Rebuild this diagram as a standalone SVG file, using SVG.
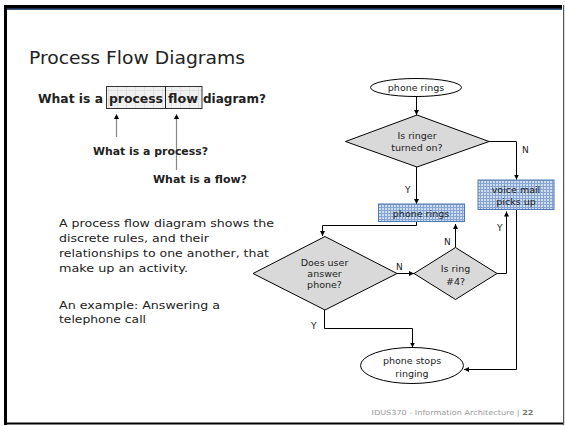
<svg xmlns="http://www.w3.org/2000/svg" width="565" height="426" viewBox="0 0 565 426">
<defs>
<pattern id="blue" width="3" height="3" patternUnits="userSpaceOnUse">
<rect width="3" height="3" fill="#cddcef"/>
<path d="M0 0.5H3M0.5 0V3" stroke="#86a4cf" stroke-width="1"/>
</pattern>
<pattern id="grid" width="9" height="9" patternUnits="userSpaceOnUse">
<rect width="9" height="9" fill="#f0f0f0"/>
<path d="M0 0.5H9M0.5 0V9" stroke="#dedede" stroke-width="1"/>
</pattern>
<marker id="ah" markerWidth="6" markerHeight="6" refX="5" refY="3" orient="auto" markerUnits="userSpaceOnUse">
<path d="M0 0.5L5 3L0 5.5Z" fill="#000"/>
</marker>
</defs>
<style>
text{font-family:"DejaVu Sans",Verdana,sans-serif;fill:#222}
.fc{font-size:9.5px;text-anchor:middle}
.lbl{font-size:9px}
.b{font-weight:bold}
.dia{fill:#d9d9d9;stroke:#000;stroke-width:1}
.ell{fill:#fff;stroke:#000;stroke-width:1}
.box{fill:url(#blue);stroke:#4f79b3;stroke-width:1}
.con{fill:none;stroke:#000;stroke-width:1}
.gar{fill:none;stroke:#888;stroke-width:1.2}
.par{font-size:11px}
</style>
<rect width="565" height="426" fill="#fff"/>
<!-- frame -->
<rect x="4" y="5" width="558" height="4" fill="#000"/>
<rect x="7" y="8.5" width="555" height="1.5" fill="#3a5a85"/>
<rect x="4" y="5" width="3" height="420" fill="#000"/>
<rect x="4" y="422.5" width="560" height="2" fill="#000"/>
<rect x="563" y="5" width="1.2" height="420" fill="#555"/>

<text x="29" y="64" font-size="18" textLength="216" lengthAdjust="spacingAndGlyphs">Process Flow Diagrams</text>

<g id="header">
<rect x="106.5" y="86.5" width="95.5" height="22" fill="url(#grid)" stroke="#333"/>
<line x1="165.5" y1="86.5" x2="165.5" y2="108.5" stroke="#222"/>
<text class="b" x="38" y="103" font-size="11.5" textLength="65" lengthAdjust="spacingAndGlyphs">What is a</text>
<text class="b" x="109" y="103" font-size="11.5" textLength="54" lengthAdjust="spacingAndGlyphs">process</text>
<text class="b" x="168" y="103" font-size="11.5" textLength="30" lengthAdjust="spacingAndGlyphs">flow</text>
<text class="b" x="203" y="103" font-size="11.5" textLength="63" lengthAdjust="spacingAndGlyphs">diagram?</text>
</g>
<g id="subq">
<line class="gar" x1="116.5" y1="137" x2="116.5" y2="118"/>
<path d="M114 119L116.5 114L119 119Z" fill="#000"/>
<line class="gar" x1="176.5" y1="170" x2="176.5" y2="118"/>
<path d="M174 119L176.5 114L179 119Z" fill="#000"/>
<text class="b" x="93" y="155" font-size="10" textLength="115" lengthAdjust="spacingAndGlyphs">What is a process?</text>
<text class="b" x="153" y="183" font-size="10" textLength="94" lengthAdjust="spacingAndGlyphs">What is a flow?</text>
</g>
<g id="para">
<text class="par" x="59" y="227" textLength="215" lengthAdjust="spacingAndGlyphs">A process flow diagram shows the</text>
<text class="par" x="59" y="242" textLength="150" lengthAdjust="spacingAndGlyphs">discrete rules, and their</text>
<text class="par" x="59" y="257" textLength="210" lengthAdjust="spacingAndGlyphs">relationships to one another, that</text>
<text class="par" x="59" y="272" textLength="129" lengthAdjust="spacingAndGlyphs">make up an activity.</text>
<text class="par" x="59" y="309" textLength="161" lengthAdjust="spacingAndGlyphs">An example: Answering a</text>
<text class="par" x="59" y="323" textLength="87" lengthAdjust="spacingAndGlyphs">telephone call</text>
</g>

<g id="connectors">
<line class="con" x1="416.5" y1="96.5" x2="416.5" y2="115" marker-end="url(#ah)"/>
<polyline class="con" points="489,141.5 516.5,141.5 516.5,179.5" marker-end="url(#ah)"/>
<line class="con" x1="416.5" y1="167" x2="416.5" y2="204" marker-end="url(#ah)"/>
<polyline class="con" points="416.5,222 416.5,225.5 322.5,225.5 322.5,236" marker-end="url(#ah)"/>
<line class="con" x1="397" y1="273.5" x2="414" y2="273.5" marker-end="url(#ah)"/>
<line class="con" x1="455.5" y1="247.5" x2="455.5" y2="224" marker-end="url(#ah)"/>
<polyline class="con" points="497,273.5 506.5,273.5 506.5,211.5" marker-end="url(#ah)"/>
<polyline class="con" points="516.5,209.5 516.5,369.5 464,369.5" marker-end="url(#ah)"/>
<polyline class="con" points="324.5,310 324.5,328.5 412.5,328.5 412.5,347.5" marker-end="url(#ah)"/>
<text class="lbl" x="522" y="153">N</text>
<text class="lbl" x="405" y="193">Y</text>
<text class="lbl" x="396" y="270">N</text>
<text class="lbl" x="444" y="245">N</text>
<text class="lbl" x="497" y="231">Y</text>
<text class="lbl" x="311" y="329">Y</text>
</g>

<g id="start">
<ellipse class="ell" cx="416" cy="87.5" rx="45.5" ry="9"/>
<text class="fc" x="416" y="91">phone rings</text>
</g>
<g id="ringer">
<polygon class="dia" points="417,115 489,141.5 417,167 345.5,141.5"/>
<text class="fc" x="417" y="139">Is ringer</text>
<text class="fc" x="417" y="151">turned on?</text>
</g>
<g id="voicemail">
<rect class="box" x="478" y="180" width="76" height="29.5"/>
<text class="fc" x="516" y="193">voice mail</text>
<text class="fc" x="516" y="205">picks up</text>
</g>
<g id="rings">
<rect class="box" x="378.5" y="204" width="86" height="17.5"/>
<text class="fc" x="421" y="216.5">phone rings</text>
</g>
<g id="answer">
<polygon class="dia" points="325,236.5 397,273.5 325,310 253,273.5"/>
<text class="fc" x="324.5" y="266">Does user</text>
<text class="fc" x="324.5" y="277">answer</text>
<text class="fc" x="324.5" y="288">phone?</text>
</g>
<g id="ring4">
<polygon class="dia" points="455.5,247.5 497,273.5 455.5,299.5 414,273.5"/>
<text class="fc" x="455.5" y="272">Is ring</text>
<text class="fc" x="455.5" y="285">#4?</text>
</g>
<g id="stop">
<ellipse class="ell" cx="412" cy="365.5" rx="51.5" ry="18"/>
<text class="fc" x="412" y="364">phone stops</text>
<text class="fc" x="412" y="377">ringing</text>
</g>

<text x="371.5" y="415" font-size="7" style="fill:#999" textLength="162" lengthAdjust="spacingAndGlyphs">IDUS370 - Information Architecture | <tspan font-weight="bold" style="fill:#777">22</tspan></text>
</svg>
